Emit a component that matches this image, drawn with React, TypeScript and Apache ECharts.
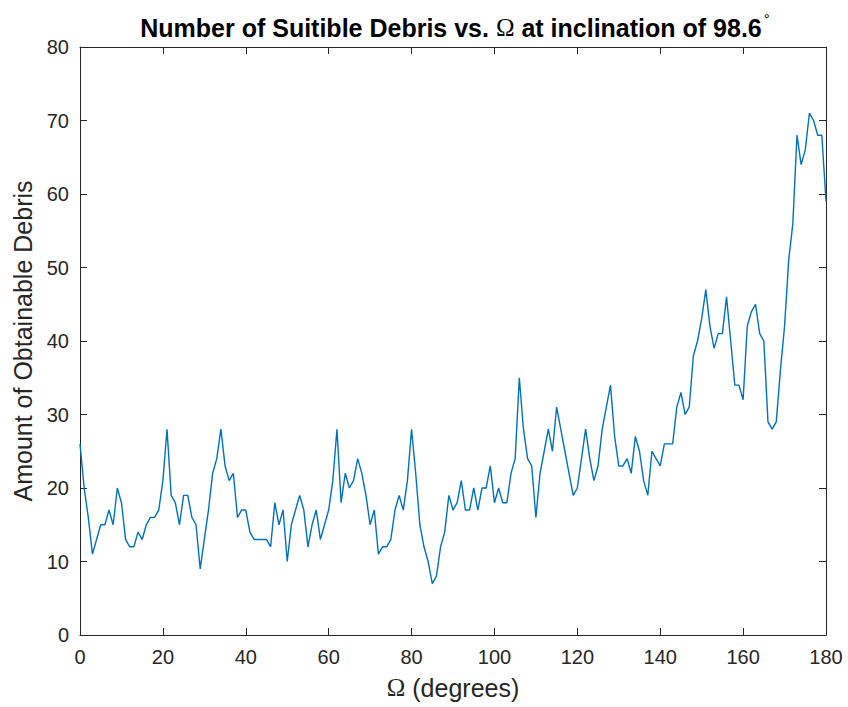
import React, { useEffect, useRef } from "react";
import * as echarts from "echarts";

const debrisCounts: number[] = [
  26, 20, 16, 11, 13, 15, 15, 17, 15, 20,
  18, 13, 12, 12, 14, 13, 15, 16, 16, 17,
  21, 28, 19, 18, 15, 19, 19, 16, 15, 9,
  13, 17, 22, 24, 28, 23, 21, 22, 16, 17,
  17, 14, 13, 13, 13, 13, 12, 18, 15, 17,
  10, 15, 17, 19, 17, 12, 15, 17, 13, 15,
  17, 21, 28, 18, 22, 20, 21, 24, 22, 19,
  15, 17, 11, 12, 12, 13, 17, 19, 17, 21,
  28, 22, 15, 12, 10, 7, 8, 12, 14, 19,
  17, 18, 21, 17, 17, 20, 17, 20, 20, 23,
  18, 20, 18, 18, 22, 24, 35, 28, 24, 23,
  16, 22, 25, 28, 25, 31, 28, 25, 22, 19,
  20, 24, 28, 24, 21, 23, 28, 31, 34, 27,
  23, 23, 24, 22, 27, 25, 21, 19, 25, 24,
  23, 26, 26, 26, 31, 33, 30, 31, 38, 40,
  43, 47, 42, 39, 41, 41, 46, 40, 34, 34,
  32, 42, 44, 45, 41, 40, 29, 28, 29, 36,
  42, 51, 56, 68, 64, 66, 71, 70, 68, 68,
  59,
];
const omegaStart = 0; // degrees, one sample per degree

const xTicks = { min: 0, max: 180, interval: 20 };
const yTicks = { min: 0, max: 80, interval: 10 };

const titleText = "Number of Suitible Debris vs. {om|Ω} at inclination of 98.6{sup|°}";
const xLabel = "{om|Ω} (degrees)";
const yLabel = "Amount of Obtainable Debris";

const axisColor = "#262626";
const lineColor = "#0072BD";
const font = "'Liberation Sans', Arial, Helvetica, sans-serif";

export default function App() {
  const ref = useRef<HTMLDivElement>(null);
  useEffect(() => {
    document.body.style.margin = "0";
    if (!ref.current) return;
    const chart = echarts.init(ref.current, null, { renderer: "svg" });
    const data = debrisCounts.map((v, i) => [omegaStart + i, v]);
    const common = {
      axisLine: { show: true, onZero: false, lineStyle: { color: axisColor, width: 1 } },
      axisTick: { show: true, inside: true, length: 7, lineStyle: { color: axisColor } },
      splitLine: { show: false },
    };
    chart.setOption({
      animation: false,
      backgroundColor: "#ffffff",
      title: {
        text: titleText,
        left: 450,
        textAlign: "center",
        top: 6,
        textStyle: {
          fontFamily: font,
          fontSize: 25,
          fontWeight: "bold",
          color: "#000",
          rich: {
            om: { fontFamily: "'Liberation Serif', serif", fontSize: 25, fontWeight: "normal", color: "#000" },
            sup: { fontSize: 15, fontWeight: "normal", color: "#000", verticalAlign: "top", padding: [0, 0, 18, 2] },
          },
        },
      },
      grid: { left: 80, top: 47, width: 746, height: 588, containLabel: false },
      xAxis: [
        {
          type: "value",
          position: "bottom",
          ...xTicks,
          ...common,
          axisLabel: { color: axisColor, fontFamily: font, fontSize: 20, margin: 12 },
          name: xLabel,
          nameLocation: "middle",
          nameGap: 40,
          nameTextStyle: {
            color: axisColor,
            fontFamily: font,
            fontSize: 25,
            rich: { om: { fontFamily: "'Liberation Serif', serif", fontSize: 25, color: axisColor } },
          },
        },
        {
          type: "value",
          position: "top",
          ...xTicks,
          ...common,
          axisLabel: { show: false },
        },
      ],
      yAxis: [
        {
          type: "value",
          position: "left",
          ...yTicks,
          ...common,
          axisLabel: { color: axisColor, fontFamily: font, fontSize: 20, margin: 11 },
          name: yLabel,
          nameLocation: "middle",
          nameGap: 45,
          nameTextStyle: { color: axisColor, fontFamily: font, fontSize: 25 },
        },
        {
          type: "value",
          position: "right",
          ...yTicks,
          ...common,
          axisLabel: { show: false },
        },
      ],
      series: [
        {
          type: "line",
          data,
          xAxisIndex: 0,
          yAxisIndex: 0,
          showSymbol: false,
          symbol: "none",
          lineStyle: { color: lineColor, width: 1.4 },
        },
      ],
    });
    return () => chart.dispose();
  }, []);
  return <div ref={ref} style={{ width: 848, height: 707 }} />;
}
